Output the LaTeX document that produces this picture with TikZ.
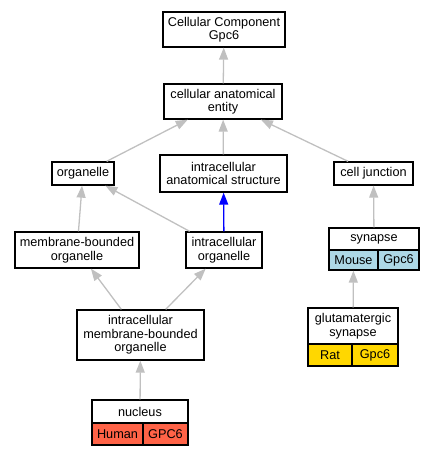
\documentclass[tikz,border=0pt]{standalone}
\usepackage{fontspec}
\setmainfont{Liberation Sans}
\usetikzlibrary{arrows.meta}
\definecolor{edgegray}{RGB}{192,192,192}
\definecolor{humancol}{RGB}{255,99,71}
\definecolor{mousecol}{RGB}{173,216,230}
\definecolor{ratcol}{RGB}{255,215,0}
\tikzset{
  term/.style={draw,line width=1.3pt,fill=white,align=center,inner sep=0pt,
    font=\fontsize{12.7}{13.5}\selectfont},
  cell/.style={term,minimum height=#1},
  isa/.style={draw=edgegray,line width=1.3pt,-{Triangle[length=12pt,width=9pt]}},
  partof/.style={isa,draw=blue}
}
\begin{document}
\begin{tikzpicture}[x=1pt,y=-1pt]
    \useasboundingbox (0,0) rectangle (435,456);

    % terms
    \node[term,minimum width=122,minimum height=35] (cc) at (224,29.5) {Cellular Component\\Gpc6};
    \node[term,minimum width=118,minimum height=35] (cae) at (223,101.5) {cellular anatomical\\entity};
    \node[term,minimum width=62,minimum height=23] (org) at (83,173.5) {organelle};
    \node[term,minimum width=127,minimum height=37] (ias) at (223.5,173.5) {intracellular\\anatomical structure};
    \node[term,minimum width=79,minimum height=23] (cj) at (373.5,173.5) {cell junction};
    \node[term,minimum width=124,minimum height=36] (mbo) at (77,250) {membrane-bounded\\organelle};
    \node[term,minimum width=76,minimum height=36] (io) at (224,250) {intracellular\\organelle};
    \node[term,minimum width=127,minimum height=50] (imbo) at (140.5,335) {intracellular\\membrane-bounded\\organelle};

    % annotated terms
    \node[term,minimum width=90,minimum height=22] (syn) at (374,239) {synapse};
    \node[cell=20,minimum width=49,fill=mousecol] (synM) at (353.5,260) {Mouse};
    \node[cell=20,minimum width=41,fill=mousecol] (synG) at (398.5,260) {Gpc6};

    \node[term,minimum width=90,minimum height=36] (glu) at (353,326) {glutamatergic\\synapse};
    \node[cell=22,minimum width=44,fill=ratcol] (gluR) at (330,355) {Rat};
    \node[cell=22,minimum width=46,fill=ratcol] (gluG) at (375,355) {Gpc6};

    \node[term,minimum width=96,minimum height=23] (nuc) at (140,411.5) {nucleus};
    \node[cell=22,minimum width=51,fill=humancol] (nucH) at (117.5,434) {Human};
    \node[cell=22,minimum width=45,fill=humancol] (nucG) at (165.5,434) {GPC6};

    % relations
    \draw[isa] (cae) -- (cc);
    \draw[isa] (org) -- (cae);
    \draw[isa] (ias) -- (cae);
    \draw[isa] (cj) -- (cae);
    \draw[isa] (mbo) -- (org);
    \draw[isa] (io) -- (org);
    \draw[partof] (io) -- (ias);
    \draw[isa] (syn) -- (cj);
    \draw[isa] (imbo) -- (mbo);
    \draw[isa] (imbo) -- (io);
    \draw[isa] (glu) -- (synM);
    \draw[isa] (nuc) -- (imbo);
\end{tikzpicture}
\end{document}
